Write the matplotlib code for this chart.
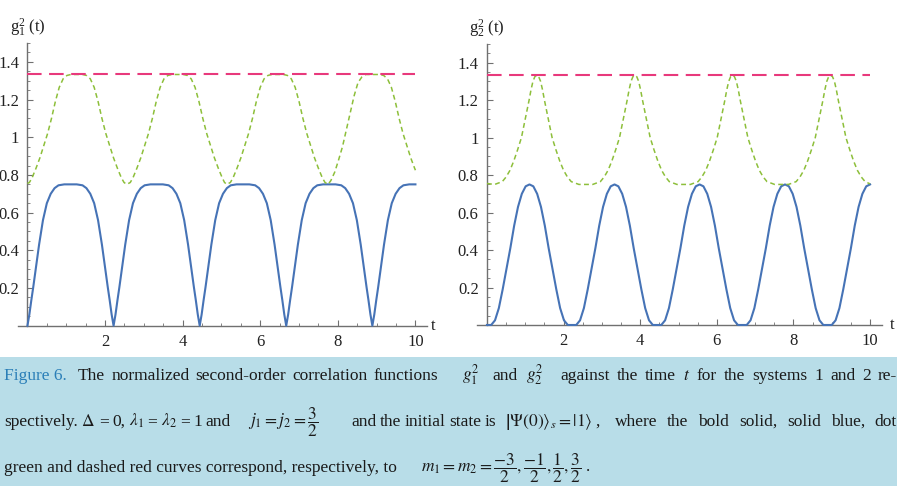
import matplotlib

matplotlib.use("Agg")
import matplotlib.pyplot as plt
from matplotlib.patches import Rectangle
from matplotlib.ticker import MultipleLocator, FixedLocator

plt.rcParams["font.family"] = ["Liberation Serif", "DejaVu Serif"]
plt.rcParams["mathtext.fontset"] = "stix"

# ---- data ----------------------------------------------------------------
# left panel (system 1)
left_blue_t = [0, 0.05, 0.1, 0.15, 0.2, 0.3, 0.4, 0.5, 0.6, 0.7, 0.8, 0.95, 1.11, 1.27, 1.42, 1.52,
               1.62, 1.72, 1.82, 1.92, 2.02, 2.07, 2.12, 2.17, 2.22,
               2.27, 2.32, 2.37, 2.42, 2.52, 2.62, 2.72, 2.82, 2.92, 3.02, 3.17, 3.33, 3.49, 3.64,
               3.74, 3.84, 3.94, 4.04, 4.14, 4.24, 4.29, 4.34, 4.39, 4.44,
               4.49, 4.54, 4.59, 4.64, 4.74, 4.84, 4.94, 5.04, 5.14, 5.24, 5.39, 5.55, 5.72, 5.87,
               5.97, 6.07, 6.17, 6.27, 6.37, 6.47, 6.52, 6.57, 6.62, 6.67,
               6.72, 6.77, 6.82, 6.87, 6.97, 7.07, 7.17, 7.27, 7.37, 7.47, 7.62, 7.78, 7.94, 8.09,
               8.19, 8.29, 8.39, 8.49, 8.59, 8.69, 8.74, 8.79, 8.84, 8.89,
               8.94, 8.99, 9.04, 9.09, 9.19, 9.29, 9.39, 9.49, 9.59, 9.69, 9.84, 10.0]
left_blue_y = [0, .06, .135, .205, .28, .43, .56, .65, .70, .73, .745, .75, .75, .75, .745, .73,
               .70, .65, .56, .43, .28, .205, .135, .06, 0,
               .06, .135, .205, .28, .43, .56, .65, .70, .73, .745, .75, .75, .75, .745,
               .73, .70, .65, .56, .43, .28, .205, .135, .06, 0,
               .06, .135, .205, .28, .43, .56, .65, .70, .73, .745, .75, .75, .75, .745,
               .73, .70, .65, .56, .43, .28, .205, .135, .06, 0,
               .06, .135, .205, .28, .43, .56, .65, .70, .73, .745, .75, .75, .75, .745,
               .73, .70, .65, .56, .43, .28, .205, .135, .06, 0,
               .06, .135, .205, .28, .43, .56, .65, .70, .73, .745, .75, .75]

left_green_t = [0, 0.05, 0.12, 0.22, 0.32, 0.42, 0.52, 0.62, 0.72, 0.82, 0.92, 1.02, 1.12, 1.27,
                1.42, 1.52, 1.62, 1.72, 1.82, 1.92, 2.02, 2.12, 2.22, 2.32, 2.42, 2.49, 2.56,
                2.65, 2.72, 2.82, 2.92, 3.02, 3.12, 3.22, 3.32, 3.42, 3.52, 3.62, 3.72, 3.87,
                4.02, 4.12, 4.22, 4.32, 4.42, 4.52, 4.62, 4.72, 4.82, 4.92, 5.02, 5.08, 5.14,
                5.23, 5.30, 5.40, 5.50, 5.60, 5.70, 5.80, 5.90, 6.00, 6.10, 6.20, 6.30, 6.45,
                6.60, 6.70, 6.80, 6.90, 7.00, 7.10, 7.20, 7.30, 7.40, 7.50, 7.60, 7.67, 7.75,
                7.82, 7.92, 8.02, 8.12, 8.22, 8.32, 8.42, 8.52, 8.62, 8.72, 8.93,
                9.08, 9.18, 9.28, 9.38, 9.48, 9.58, 9.68, 9.78, 9.88, 9.98, 10.0]
left_green_y = [.755, .76, .785, .835, .89, .955, 1.02, 1.10, 1.19, 1.265, 1.31, 1.328, 1.333, 1.333,
                1.333, 1.328, 1.31, 1.265, 1.19, 1.10, 1.02, .955, .89, .835, .785, .76, .75,
                .76, .785, .835, .89, .955, 1.02, 1.10, 1.19, 1.265, 1.31, 1.328, 1.333, 1.333,
                1.333, 1.328, 1.31, 1.265, 1.19, 1.10, 1.02, .955, .89, .835, .785, .76, .75,
                .76, .785, .835, .89, .955, 1.02, 1.10, 1.19, 1.265, 1.31, 1.328, 1.333, 1.333,
                1.333, 1.328, 1.31, 1.265, 1.19, 1.10, 1.02, .955, .89, .835, .785, .76, .75,
                .77, .815, .88, .95, 1.04, 1.13, 1.22, 1.29, 1.32, 1.333, 1.333,
                1.333, 1.328, 1.31, 1.265, 1.19, 1.10, 1.02, .955, .89, .835, .825]

# right panel (system 2)
right_blue_t = [0, 0.11, 0.21, 0.31, 0.41, 0.51, 0.61, 0.71, 0.81, 0.91, 1.01, 1.11, 1.21, 1.31, 1.41,
                1.51, 1.61, 1.71, 1.81, 1.91, 2.01, 2.11,
                2.33, 2.43, 2.53, 2.63, 2.73, 2.83, 2.93, 3.03, 3.13, 3.23, 3.33, 3.43, 3.53, 3.63,
                3.73, 3.83, 3.93, 4.03, 4.13, 4.23, 4.33,
                4.55, 4.65, 4.75, 4.85, 4.95, 5.05, 5.15, 5.25, 5.35, 5.45, 5.55, 5.65, 5.75, 5.85,
                5.95, 6.05, 6.15, 6.25, 6.35, 6.45, 6.55,
                6.78, 6.88, 6.98, 7.08, 7.18, 7.28, 7.38, 7.48, 7.58, 7.68, 7.78, 7.88, 7.98, 8.08,
                8.18, 8.28, 8.38, 8.48, 8.58, 8.68, 8.78,
                9.0, 9.1, 9.2, 9.3, 9.4, 9.5, 9.6, 9.7, 9.8, 9.9, 10.0]
right_blue_y = [0, 0, .025, .09, .19, .30, .41, .53, .63, .70, .74, .75, .74, .70, .63,
                .53, .41, .30, .19, .09, .025, 0,
                0, .025, .09, .19, .30, .41, .53, .63, .70, .74, .75, .74, .70, .63,
                .53, .41, .30, .19, .09, .025, 0,
                0, .025, .09, .19, .30, .41, .53, .63, .70, .74, .75, .74, .70, .63,
                .53, .41, .30, .19, .09, .025, 0,
                0, .025, .09, .19, .30, .41, .53, .63, .70, .74, .75, .74, .70, .63,
                .53, .41, .30, .19, .09, .025, 0,
                0, .025, .09, .19, .30, .41, .53, .63, .70, .74, .75]

right_green_t = [0, 0.2, 0.4, 0.5, 0.6, 0.7, 0.8, 0.9, 1.0, 1.1, 1.15, 1.2, 1.25, 1.3, 1.35, 1.4,
                 1.45, 1.5, 1.6, 1.7, 1.8, 1.9, 2.0, 2.1, 2.2, 2.4,
                 2.76, 2.96, 3.06, 3.16, 3.26, 3.36, 3.46, 3.56, 3.66, 3.71, 3.76, 3.81, 3.86,
                 3.91, 3.96, 4.01, 4.06, 4.16, 4.26, 4.36, 4.46, 4.56, 4.66, 4.76, 4.96,
                 5.31, 5.51, 5.61, 5.71, 5.81, 5.91, 6.01, 6.11, 6.21, 6.26, 6.31, 6.36, 6.41,
                 6.46, 6.51, 6.56, 6.61, 6.71, 6.81, 6.91, 7.01, 7.11, 7.21, 7.31, 7.51,
                 7.87, 8.07, 8.17, 8.27, 8.37, 8.47, 8.57, 8.67, 8.77, 8.82, 8.87, 8.92, 8.97,
                 9.02, 9.07, 9.12, 9.17, 9.27, 9.37, 9.47, 9.57, 9.67, 9.77, 9.87, 10.0]
right_green_y = [.755, .75, .765, .79, .825, .875, .935, 1.0, 1.10, 1.20, 1.255, 1.30, 1.325, 1.333,
                 1.325, 1.30, 1.255, 1.20, 1.10, 1.0, .935, .875, .825, .79, .765, .75,
                 .75, .765, .79, .825, .875, .935, 1.0, 1.10, 1.20, 1.255, 1.30, 1.325, 1.333,
                 1.325, 1.30, 1.255, 1.20, 1.10, 1.0, .935, .875, .825, .79, .765, .75,
                 .75, .765, .79, .825, .875, .935, 1.0, 1.10, 1.20, 1.255, 1.30, 1.325, 1.333,
                 1.325, 1.30, 1.255, 1.20, 1.10, 1.0, .935, .875, .825, .79, .765, .75,
                 .75, .765, .79, .825, .875, .935, 1.0, 1.10, 1.20, 1.255, 1.30, 1.325, 1.333,
                 1.325, 1.30, 1.255, 1.20, 1.10, 1.0, .935, .875, .825, .79, .765, .753]

red_t = [0, 10]
red_y = [4 / 3, 4 / 3]

x_ticks = [2, 4, 6, 8, 10]
y_ticks = [0.2, 0.4, 0.6, 0.8, 1.0, 1.2, 1.4]
y_ticklabels = ["0.2", "0.4", "0.6", "0.8", "1", "1.2", "1.4"]

BLUE = "#4673b6"
GREEN = "#8dbf3a"
RED = "#e8397c"
AXIS = "#707070"
INK = "#1a1a1a"

W, H = 905, 486
fig = plt.figure(figsize=(W / 100, H / 100), dpi=100)

# caption box
fig.patches.append(Rectangle((0, 0), 897 / W, 129 / H, transform=fig.transFigure,
                             facecolor="#b8dde8", edgecolor="none", zorder=0))

panels = [
    ([0.0196, 0.3298, 0.4523, 0.5817], left_blue_t, left_blue_y, left_green_t, left_green_y,
     r"$\mathregular{g_1^2}$ (t)", 10.45),
    ([0.5275, 0.3313, 0.4466, 0.5784], right_blue_t, right_blue_y, right_green_t, right_green_y,
     r"$\mathregular{g_2^2}$ (t)", 10.57),
]

for rect, bt, by, gt, gy, ylab, tx in panels:
    ax = fig.add_axes(rect)
    ax.patch.set_alpha(0)
    ax.plot(bt, by, color=BLUE, lw=1.5, clip_on=False, zorder=3)
    ax.plot(gt, gy, color=GREEN, lw=1.1, dashes=(3.2, 2.2), clip_on=False, zorder=3)
    ax.plot(red_t, red_y, color=RED, lw=1.5, dashes=(7, 3.6), clip_on=False, zorder=3)

    ax.set_xlim(-0.25, 10.3)
    ax.set_ylim(0, 1.5)
    for side in ("top", "right"):
        ax.spines[side].set_visible(False)
    ax.spines["left"].set_position(("data", 0))
    ax.spines["bottom"].set_position(("data", 0))
    for side in ("left", "bottom"):
        ax.spines[side].set_color(AXIS)
        ax.spines[side].set_linewidth(1.0)

    ax.xaxis.set_major_locator(FixedLocator(x_ticks))
    ax.xaxis.set_minor_locator(MultipleLocator(0.5))
    ax.set_yticks(y_ticks)
    ax.set_yticklabels(y_ticklabels)
    ax.yaxis.set_minor_locator(MultipleLocator(0.05))
    ax.tick_params(which="both", direction="in", color=AXIS, labelsize=12, labelcolor="#222222")
    ax.tick_params(which="major", length=4, width=0.8)
    ax.tick_params(which="minor", length=2.2, width=0.6)
    ax.tick_params(axis="x", pad=6)
    ax.tick_params(axis="y", pad=6)

    ax.text(0, 1.58, ylab, ha="center", va="center", fontsize=12, color="#222222")
    ax.text(tx, 0, "t", ha="center", va="center", fontsize=12, color="#222222")

renderer = fig.canvas.get_renderer()
CAP_FS = 12.5


def cap(px, py, s, color=INK):
    return fig.text(px / W, 1 - py / H, s, ha="left", va="baseline", fontsize=CAP_FS, color=color)


def justify(words, x0, x1, py):
    # spread the words of one stretch of justified text between x0 and x1 (pixels)
    texts = [cap(0, py, w) for w in words]
    widths = [t.get_window_extent(renderer).width for t in texts]
    gap = (x1 - x0 - sum(widths)) / max(len(words) - 1, 1)
    x = x0
    for t, w in zip(texts, widths):
        t.set_x(x / W)
        x += w + gap


# caption, line 1
cap(4, 380, "Figure 6.", color="#2b7fb8")
justify("The normalized second-order correlation functions".split(), 78, 438, 380)
cap(462, 380, r"$g_1^2$")
cap(492, 380, "and")
cap(526, 380, r"$g_2^2$")
justify(["against", "the", "time", "$t$", "for", "the", "systems", "1", "and", "2", "re-"],
        560, 897, 380)
# line 2
justify(["spectively.", r"$\Delta$", "=", "0,", r"$\lambda_1$", "=", r"$\lambda_2$", "=", "1", "and"],
        4, 231, 426)
cap(248, 426, r"$j_1 = j_2 = \dfrac{3}{2}$")
justify("and the initial state is".split(), 351, 496, 426)
cap(505, 426, r"$\left|\Psi\left(0\right)\right\rangle_s = \left|1\right\rangle$ ,")
justify("where the bold solid, solid blue, dot".split(), 615, 897, 426)
# line 3
cap(4, 472, "green and dashed red curves correspond, respectively, to")
cap(421, 472, r"$m_1 = m_2 = \dfrac{-3}{2},\dfrac{-1}{2},\dfrac{1}{2},\dfrac{3}{2}$ .")

fig.savefig("out.png", dpi=100)
